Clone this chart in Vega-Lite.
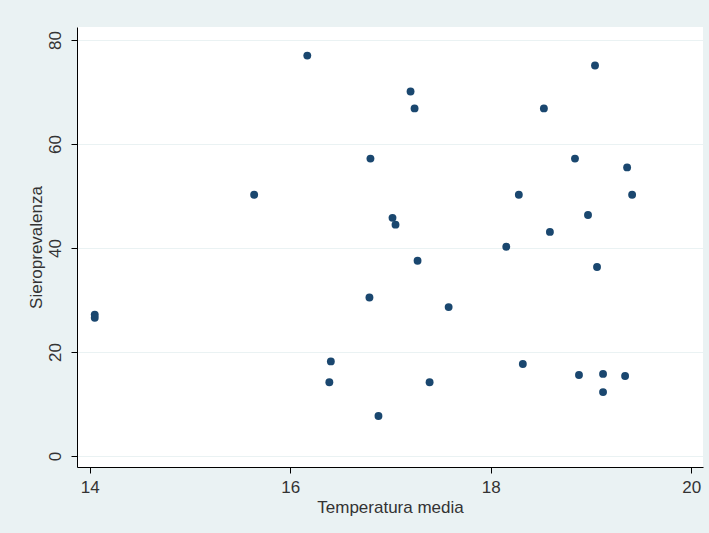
{
  "$schema": "https://vega.github.io/schema/vega-lite/v6.json",
  "width": 626,
  "height": 440,
  "autosize": "none",
  "padding": {"left": 77, "top": 27, "right": 6, "bottom": 66},
  "background": "#EAF2F3",
  "config": {
    "view": {"fill": "white", "stroke": null},
    "font": "Liberation Sans",
    "axis": {
      "labelFont": "Liberation Sans",
      "titleFont": "Liberation Sans",
      "labelFontSize": 17,
      "titleFontSize": 17,
      "titleFontWeight": "normal",
      "labelColor": "#333333",
      "titleColor": "#333333",
      "domainColor": "#000000",
      "tickColor": "#000000",
      "tickSize": 6,
      "gridColor": "#EAF2F3",
      "gridWidth": 1
    }
  },
  "data": {
    "values": [
      {"temp": 14.05, "siero": 27.2},
      {"temp": 14.05, "siero": 26.6},
      {"temp": 15.64, "siero": 50.25},
      {"temp": 16.17, "siero": 77.0},
      {"temp": 16.405, "siero": 18.2},
      {"temp": 16.39, "siero": 14.2},
      {"temp": 16.80, "siero": 57.2},
      {"temp": 16.79, "siero": 30.5},
      {"temp": 16.88, "siero": 7.7},
      {"temp": 17.02, "siero": 45.8},
      {"temp": 17.05, "siero": 44.5},
      {"temp": 17.20, "siero": 70.1},
      {"temp": 17.24, "siero": 66.85},
      {"temp": 17.27, "siero": 37.55},
      {"temp": 17.39, "siero": 14.2},
      {"temp": 17.58, "siero": 28.65},
      {"temp": 18.155, "siero": 40.25},
      {"temp": 18.28, "siero": 50.25},
      {"temp": 18.32, "siero": 17.7},
      {"temp": 18.53, "siero": 66.85},
      {"temp": 18.59, "siero": 43.1},
      {"temp": 18.84, "siero": 57.2},
      {"temp": 18.88, "siero": 15.6},
      {"temp": 18.97, "siero": 46.35},
      {"temp": 19.04, "siero": 75.1},
      {"temp": 19.06, "siero": 36.35},
      {"temp": 19.12, "siero": 15.8},
      {"temp": 19.12, "siero": 12.3},
      {"temp": 19.36, "siero": 55.5},
      {"temp": 19.34, "siero": 15.4},
      {"temp": 19.41, "siero": 50.25}
    ]
  },
  "mark": {"type": "point", "shape": "circle", "filled": true, "size": 62, "color": "#1A476F", "opacity": 1},
  "encoding": {
    "x": {
      "field": "temp",
      "type": "quantitative",
      "title": "Temperatura media",
      "scale": {"domain": [13.873, 20.117], "nice": false, "zero": false},
      "axis": {"values": [14, 16, 18, 20], "grid": false, "labelPadding": 6, "titlePadding": 4, "labelFlush": false}
    },
    "y": {
      "field": "siero",
      "type": "quantitative",
      "title": "Sieroprevalenza",
      "scale": {"domain": [-2.1, 82.5], "nice": false, "zero": false},
      "axis": {"values": [0, 20, 40, 60, 80], "grid": true, "labelAngle": -90, "labelAlign": "center", "labelBaseline": "bottom", "labelPadding": 7, "titlePadding": 1, "labelFlush": false}
    }
  }
}
